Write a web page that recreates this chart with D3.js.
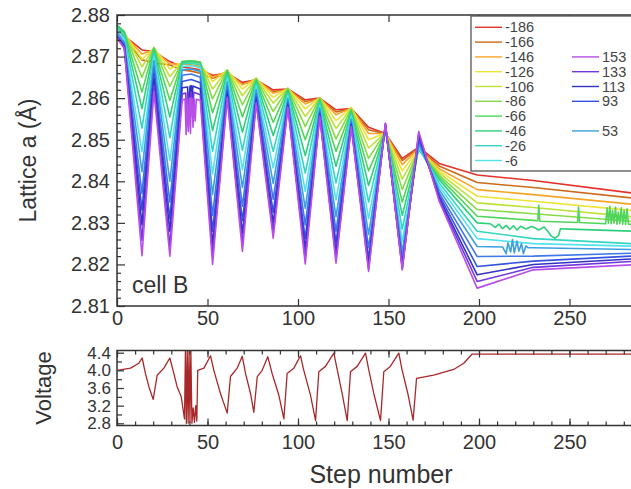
<!DOCTYPE html>
<html>
<head>
<meta charset="utf-8">
<script src="https://cdn.jsdelivr.net/npm/d3@7"></script>
<style>
  html, body { margin: 0; padding: 0; background: #fff; overflow: hidden; }
  svg { display: block; font-family: "Liberation Sans", Arial, sans-serif; }
</style>
</head>
<body>
<svg id="chart" width="631" height="489"></svg>
<script>
// ---- data ----
// step numbers at which each lattice series was read (shared by all series)
const latSteps = [0, 4, 13.8, 20.4, 29.2, 36, 41, 46, 52.8, 60.9, 69.3, 76.9, 86.3, 94.4,
                  104, 112, 121, 129.4, 139, 148.3, 157.6, 166.7, 178, 199, 230, 284];

const latM186 = [2.8765, 2.8750, 2.8716, 2.8712, 2.8688, 2.8675, 2.8672, 2.8668, 2.8655, 2.8660, 2.8638, 2.8644, 2.8620, 2.8622, 2.8596, 2.8600, 2.8572, 2.8575, 2.8530, 2.8515, 2.8455, 2.8482, 2.8443, 2.8415, 2.8402, 2.8372];
const latM166 = [2.8762, 2.8745, 2.8692, 2.8685, 2.8680, 2.8668, 2.8665, 2.8660, 2.8648, 2.8658, 2.8634, 2.8642, 2.8616, 2.8620, 2.8592, 2.8598, 2.8567, 2.8574, 2.8524, 2.8514, 2.8450, 2.8480, 2.8437, 2.8397, 2.8385, 2.8360];
const latM146 = [2.8768, 2.8752, 2.8706, 2.8716, 2.8682, 2.8682, 2.8680, 2.8676, 2.8650, 2.8664, 2.8632, 2.8646, 2.8612, 2.8622, 2.8586, 2.8600, 2.8560, 2.8576, 2.8515, 2.8515, 2.8440, 2.8479, 2.8430, 2.8380, 2.8368, 2.8345];
const latM126 = [2.8770, 2.8755, 2.8694, 2.8720, 2.8670, 2.8685, 2.8685, 2.8682, 2.8640, 2.8667, 2.8622, 2.8648, 2.8602, 2.8624, 2.8574, 2.8601, 2.8546, 2.8577, 2.8500, 2.8516, 2.8425, 2.8478, 2.8425, 2.8364, 2.8352, 2.8330];
const latM106 = [2.8773, 2.8758, 2.8675, 2.8722, 2.8652, 2.8687, 2.8688, 2.8685, 2.8622, 2.8668, 2.8606, 2.8648, 2.8588, 2.8624, 2.8556, 2.8601, 2.8527, 2.8576, 2.8480, 2.8517, 2.8405, 2.8477, 2.8420, 2.8348, 2.8337, 2.8315];
const latM86  = [2.8775, 2.8760, 2.8650, 2.8722, 2.8628, 2.8688, 2.8690, 2.8687, 2.8598, 2.8668, 2.8584, 2.8647, 2.8568, 2.8623, 2.8532, 2.8600, 2.8502, 2.8574, 2.8455, 2.8518, 2.8380, 2.8477, 2.8415, 2.8332, 2.8322, 2.8304];
const latM66  = [2.8776, 2.8760, 2.8615, 2.8720, 2.8595, 2.8688, 2.8690, 2.8687, 2.8565, 2.8666, 2.8555, 2.8645, 2.8542, 2.8621, 2.8500, 2.8598, 2.8472, 2.8571, 2.8425, 2.8519, 2.8350, 2.8477, 2.8410, 2.8316, 2.8306, 2.8296];
const latM46  = [2.8775, 2.8757, 2.8575, 2.8716, 2.8555, 2.8686, 2.8688, 2.8685, 2.8522, 2.8662, 2.8518, 2.8641, 2.8510, 2.8617, 2.8462, 2.8594, 2.8436, 2.8567, 2.8390, 2.8521, 2.8318, 2.8478, 2.8404, 2.8300, 2.8290, 2.8280];
const latM26  = [2.8770, 2.8750, 2.8528, 2.8710, 2.8505, 2.8682, 2.8684, 2.8680, 2.8472, 2.8656, 2.8475, 2.8636, 2.8472, 2.8612, 2.8420, 2.8589, 2.8396, 2.8562, 2.8350, 2.8523, 2.8285, 2.8480, 2.8396, 2.8280, 2.8262, 2.8250];
const latM6   = [2.8765, 2.8742, 2.8471, 2.8700, 2.8450, 2.8676, 2.8678, 2.8673, 2.8418, 2.8648, 2.8428, 2.8629, 2.8432, 2.8606, 2.8376, 2.8583, 2.8355, 2.8556, 2.8310, 2.8526, 2.8255, 2.8484, 2.8388, 2.8262, 2.8250, 2.8244];
const latP53  = [2.8758, 2.8735, 2.8423, 2.8690, 2.8400, 2.8668, 2.8670, 2.8664, 2.8368, 2.8638, 2.8385, 2.8620, 2.8395, 2.8599, 2.8335, 2.8576, 2.8315, 2.8549, 2.8272, 2.8529, 2.8230, 2.8490, 2.8380, 2.8243, 2.8240, 2.8236];
const latP73  = [2.8752, 2.8730, 2.8371, 2.8675, 2.8350, 2.8655, 2.8658, 2.8650, 2.8318, 2.8628, 2.8340, 2.8611, 2.8357, 2.8592, 2.8295, 2.8570, 2.8280, 2.8543, 2.8240, 2.8532, 2.8212, 2.8498, 2.8372, 2.8219, 2.8220, 2.8227];
const latP93  = [2.8748, 2.8727, 2.8331, 2.8660, 2.8310, 2.8640, 2.8645, 2.8637, 2.8280, 2.8618, 2.8305, 2.8603, 2.8325, 2.8586, 2.8262, 2.8564, 2.8252, 2.8538, 2.8215, 2.8535, 2.8200, 2.8505, 2.8366, 2.8195, 2.8208, 2.8220];
const latP113 = [2.8746, 2.8725, 2.8295, 2.8645, 2.8280, 2.8625, 2.8630, 2.8622, 2.8248, 2.8610, 2.8275, 2.8596, 2.8300, 2.8582, 2.8238, 2.8560, 2.8230, 2.8535, 2.8200, 2.8537, 2.8193, 2.8511, 2.8360, 2.8175, 2.8200, 2.8213];
const latP133 = [2.8745, 2.8723, 2.8258, 2.8630, 2.8245, 2.8610, 2.8615, 2.8608, 2.8222, 2.8604, 2.8250, 2.8591, 2.8280, 2.8580, 2.8218, 2.8558, 2.8214, 2.8533, 2.8190, 2.8539, 2.8189, 2.8516, 2.8356, 2.8159, 2.8193, 2.8207];
const latP153 = [2.8744, 2.8720, 2.8221, 2.8616, 2.8220, 2.8595, 2.8600, 2.8595, 2.8200, 2.8600, 2.8231, 2.8588, 2.8263, 2.8578, 2.8201, 2.8556, 2.8203, 2.8531, 2.8183, 2.8540, 2.8187, 2.8520, 2.8352, 2.8143, 2.8187, 2.8199];

// extra jagged points seen on some curves, [step, lattice a]
const noiseP153 = [[37.6, 2.8598], [38.2, 2.8512], [38.8, 2.8598], [39.4, 2.8520], [40.0, 2.8600], [40.6, 2.8515],
                   [41.4, 2.8600], [42.0, 2.8530], [42.6, 2.8598], [43.2, 2.8545], [43.8, 2.8597]];
const noiseP133 = [[38.0, 2.8612], [38.6, 2.8540], [39.2, 2.8613], [40.2, 2.8548], [40.8, 2.8614], [41.8, 2.8552], [42.4, 2.8614]];
const noiseP113 = [[39.0, 2.8627], [39.6, 2.8565], [40.3, 2.8628], [41.2, 2.8570], [41.9, 2.8629]];
const noiseP53  = [[213, 2.8242], [215, 2.8226], [216, 2.8252], [217.5, 2.8230], [218.5, 2.8260], [219.5, 2.8228],
                   [221, 2.8256], [222, 2.8232], [223.5, 2.8250], [224.5, 2.8226], [226, 2.8245], [227, 2.8240]];
const noiseM46  = [[206, 2.8298], [209, 2.8289], [211, 2.8297], [213, 2.8286], [215, 2.8294], [217, 2.8284], [219, 2.8293],
                   [221, 2.8283], [223, 2.8292], [226, 2.8285], [229, 2.8291], [233, 2.8283], [236, 2.8290], [238, 2.8280],
                   [240, 2.8268], [242, 2.8263], [244, 2.8270], [245, 2.8286], [250, 2.8285]];
const noiseM66  = [[232.5, 2.8305], [233, 2.8343], [233.6, 2.8304], [254.5, 2.8301], [255, 2.8338], [255.6, 2.8301],
                   [270, 2.8298], [270.8, 2.8336], [271.5, 2.8299], [272.3, 2.8340], [273, 2.8298], [273.8, 2.8330],
                   [274.6, 2.8299], [275.4, 2.8338], [276.2, 2.8297], [277, 2.8326], [277.8, 2.8298], [278.6, 2.8336],
                   [279.4, 2.8297], [280.2, 2.8330], [281, 2.8296], [281.8, 2.8334], [282.6, 2.8297]];

const seriesLabels = ["-186", "-166", "-146", "-126", "-106", "-86", "-66", "-46", "-26", "-6",
                      "53", "73", "93", "113", "133", "153"];
const seriesColors = ["#e4312b", "#cc6a1c", "#f7a52a", "#eee336", "#bde23a", "#86dc48", "#4fd65a", "#2fd07c",
                      "#33d6c2", "#52e2ee", "#3c9fe0", "#3f78e8", "#3552e0", "#3232c2", "#7136de", "#b84ee8"];
const seriesValues = [latM186, latM166, latM146, latM126, latM106, latM86, latM66, latM46,
                      latM26, latM6, latP53, latP73, latP93, latP113, latP133, latP153];
const seriesNoise = { "-66": noiseM66, "-46": noiseM46, "53": noiseP53,
                      "113": noiseP113, "133": noiseP133, "153": noiseP153 };

// legend slots (two columns of ten rows, empty slots are null)
const legendCol1 = ["-186", "-166", "-146", "-126", "-106", "-86", "-66", "-46", "-26", "-6"];
const legendCol2 = [null, null, "153", "133", "113", "93", null, "53", null, null];

// voltage trace
const voltSteps  = [0, 7.5, 12, 13.9, 15.7, 17.6, 20, 22.2, 25.9, 29.2, 31.4, 33.2, 35.5, 37.3, 37.8, 38.3, 38.8,
                    39.3, 39.8, 40.3, 40.8, 41.4, 42.1, 42.8, 43.5, 44.1, 44.6, 48, 51.7, 53.5, 57.2, 60.9, 62.7,
                    66.4, 69.2, 71, 73.8, 75.6, 77.5, 80.2, 83.3, 85.7, 89.4, 92.2, 94, 97.7, 101.4, 103.2, 106.9,
                    109.7, 111.5, 115.2, 119.8, 121.7, 124.4, 127.2, 129, 132.7, 137.3, 139.1, 141.9, 145.6, 147.4,
                    151, 155.7, 157.5, 160.7, 163.6, 165.5, 175, 186, 191.6, 196.2, 284];
const voltValues = [4.00, 4.05, 4.16, 4.28, 3.93, 3.63, 3.34, 3.89, 4.05, 4.28, 3.93, 3.63, 3.40, 2.90, 4.45, 2.80, 4.45,
                    2.80, 4.45, 2.82, 4.45, 2.80, 3.15, 2.82, 3.20, 2.85, 4.00, 4.05, 4.33, 4.00, 3.47, 3.03, 3.86,
                    4.05, 4.32, 3.93, 3.47, 3.05, 3.86, 4.00, 4.31, 3.93, 3.44, 2.90, 3.93, 4.05, 4.33, 4.00, 3.44,
                    2.86, 3.97, 4.09, 4.39, 4.01, 3.47, 2.86, 3.97, 4.09, 4.39, 4.01, 3.47, 2.86, 3.97,
                    4.09, 4.39, 4.01, 3.47, 2.87, 3.82, 3.89, 4.02, 4.16, 4.37, 4.37];

const stepTicks    = [0, 50, 100, 150, 200, 250];
const latticeTicks = [2.81, 2.82, 2.83, 2.84, 2.85, 2.86, 2.87, 2.88];
const voltTicks    = [2.8, 3.2, 3.6, 4.0, 4.4];

// ---- drawing ----
const W = 631, H = 489;
const svg = d3.select("#chart");
const ink = "#333";

const x = d3.scaleLinear().domain([0, 300]).range([117, 660]);
const yLat = d3.scaleLinear().domain([2.81, 2.88]).range([306, 15]);
const yVolt = d3.scaleLinear().domain([2.75, 4.45]).range([425.5, 350.5]);

const defs = svg.append("defs");
defs.append("clipPath").attr("id", "clipTop").append("rect")
    .attr("x", x(0)).attr("y", yLat(2.88)).attr("width", W - x(0)).attr("height", yLat(2.81) - yLat(2.88));
defs.append("clipPath").attr("id", "clipBot").append("rect")
    .attr("x", x(0)).attr("y", yVolt(4.45)).attr("width", W - x(0)).attr("height", yVolt(2.75) - yVolt(4.45));

// lattice curves, red first so the purple ones sit on top
const latLine = d3.line().x(d => x(d[0])).y(d => yLat(d[1]));
const gLines = svg.append("g").attr("clip-path", "url(#clipTop)");
seriesLabels.forEach((lab, i) => {
  const pts = latSteps.map((s, k) => [s, seriesValues[i][k]])
    .concat(seriesNoise[lab] || [])
    .sort((a, b) => a[0] - b[0]);
  gLines.append("path")
      .attr("d", latLine(pts))
      .attr("fill", "none")
      .attr("stroke", seriesColors[i])
      .attr("stroke-width", 1.6)
      .attr("stroke-linejoin", "round");
});

// voltage trace
const voltLine = d3.line().x(d => x(d[0])).y(d => yVolt(d[1]));
svg.append("g").attr("clip-path", "url(#clipBot)")
  .append("path")
    .attr("d", voltLine(d3.zip(voltSteps, voltValues)))
    .attr("fill", "none")
    .attr("stroke", "#a8282a")
    .attr("stroke-width", 1.3)
    .attr("stroke-linejoin", "round");

function styleAxis(g, fontSize) {
  g.select(".domain").remove();
  g.selectAll(".tick line").attr("stroke", ink).attr("stroke-width", 1.2);
  g.selectAll(".tick text").attr("fill", ink).attr("font-size", fontSize);
}

// top panel axes
svg.append("g").attr("transform", `translate(0,${yLat(2.81)})`)
  .call(d3.axisBottom(x).tickValues(stepTicks).tickSizeInner(-7).tickSizeOuter(0).tickPadding(5))
  .call(g => styleAxis(g, 20));
svg.append("g").attr("transform", `translate(0,${yLat(2.88)})`)
  .call(d3.axisTop(x).tickValues(stepTicks).tickSizeInner(-7).tickSizeOuter(0).tickFormat(""))
  .call(g => styleAxis(g, 20));
svg.append("g").attr("transform", `translate(${x(0)},0)`)
  .call(d3.axisLeft(yLat).tickValues(d3.range(2.812, 2.88, 0.002).filter((v, i) => (i + 1) % 5 !== 0))
        .tickSizeInner(-4).tickSizeOuter(0).tickFormat(""))
  .call(g => styleAxis(g, 20));
svg.append("g").attr("transform", `translate(${x(0)},0)`)
  .call(d3.axisLeft(yLat).tickValues(latticeTicks).tickSizeInner(-8).tickSizeOuter(0).tickPadding(7)
        .tickFormat(d3.format(".2f")))
  .call(g => styleAxis(g, 20));

// bottom panel axes
const minorSteps = d3.range(0, 301, 10);
svg.append("g").attr("transform", `translate(0,${yVolt(2.75)})`)
  .call(d3.axisBottom(x).tickValues(minorSteps).tickSizeInner(-4).tickSizeOuter(0).tickFormat(""))
  .call(g => styleAxis(g, 20));
svg.append("g").attr("transform", `translate(0,${yVolt(2.75)})`)
  .call(d3.axisBottom(x).tickValues(stepTicks).tickSizeInner(-7).tickSizeOuter(0).tickPadding(9))
  .call(g => styleAxis(g, 20));
svg.append("g").attr("transform", `translate(0,${yVolt(4.45)})`)
  .call(d3.axisTop(x).tickValues(minorSteps).tickSizeInner(-4).tickSizeOuter(0).tickFormat(""))
  .call(g => styleAxis(g, 20));
svg.append("g").attr("transform", `translate(0,${yVolt(4.45)})`)
  .call(d3.axisTop(x).tickValues(stepTicks).tickSizeInner(-7).tickSizeOuter(0).tickFormat(""))
  .call(g => styleAxis(g, 20));
svg.append("g").attr("transform", `translate(${x(0)},0)`)
  .call(d3.axisLeft(yVolt).tickValues([3.0, 3.4, 3.8, 4.2]).tickSizeInner(-5).tickSizeOuter(0).tickFormat(""))
  .call(g => styleAxis(g, 17));
svg.append("g").attr("transform", `translate(${x(0)},0)`)
  .call(d3.axisLeft(yVolt).tickValues(voltTicks).tickSizeInner(-7).tickSizeOuter(0).tickPadding(6)
        .tickFormat(d3.format(".1f")))
  .call(g => styleAxis(g, 17));

// frames
const frame = svg.append("g").attr("stroke", ink).attr("stroke-width", 1.5).attr("fill", "none");
[[yLat(2.88), yLat(2.81)], [yVolt(4.45), yVolt(2.75)]].forEach(([t, b]) => {
  frame.append("path").attr("d", `M${W},${t}H${x(0)}V${b}H${W}`);
});

// legend
const legend = svg.append("g");
legend.append("rect")
    .attr("x", 471).attr("y", 16).attr("width", 200).attr("height", 155)
    .attr("fill", "#fff").attr("stroke", "#555").attr("stroke-width", 1.3);
const rowY = i => 27.3 + i * 14.8;
[[legendCol1, 475], [legendCol2, 572]].forEach(([col, x0]) => {
  col.forEach((lab, i) => {
    if (lab === null) return;
    const c = seriesColors[seriesLabels.indexOf(lab)];
    legend.append("line")
        .attr("x1", x0).attr("x2", x0 + 27).attr("y1", rowY(i)).attr("y2", rowY(i))
        .attr("stroke", c).attr("stroke-width", 1.4);
    legend.append("text")
        .attr("x", x0 + 30).attr("y", rowY(i)).attr("dy", "0.35em")
        .attr("font-size", 14.5).attr("fill", "#444")
        .text(lab);
  });
});

// labels
svg.append("text").attr("x", 132).attr("y", 293)
    .attr("font-size", 23).attr("fill", ink).text("cell B");
svg.append("text")
    .attr("transform", `translate(36,${(yLat(2.88) + yLat(2.81)) / 2}) rotate(-90)`)
    .attr("text-anchor", "middle").attr("font-size", 23).attr("fill", ink)
    .text("Lattice a (Å)");
svg.append("text")
    .attr("transform", `translate(51,${(yVolt(4.45) + yVolt(2.75)) / 2}) rotate(-90)`)
    .attr("text-anchor", "middle").attr("font-size", 22).attr("fill", ink)
    .text("Voltage");
svg.append("text").attr("x", 381).attr("y", 483)
    .attr("text-anchor", "middle").attr("font-size", 25).attr("fill", ink)
    .text("Step number");
</script>
</body>
</html>
